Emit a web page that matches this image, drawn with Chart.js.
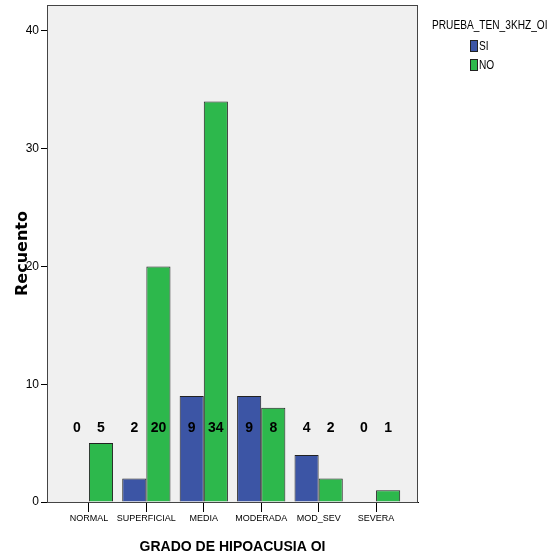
<!DOCTYPE html>
<html>
<head>
<meta charset="utf-8">
<script src="https://cdn.jsdelivr.net/npm/chart.js@4.4.1/dist/chart.umd.min.js"></script>
<style>
  body { margin: 0; background: #fff; }
  #wrap { width: 554px; height: 556px; }
</style>
</head>
<body>
<div id="wrap"><canvas id="grupoChart"></canvas></div>
<script>
  "use strict";

  var categories = ["NORMAL", "SUPERFICIAL", "MEDIA", "MODERADA", "MOD_SEV", "SEVERA"];
  var siValues = [0, 2, 9, 9, 4, 0];
  var noValues = [5, 20, 34, 8, 2, 1];
  var yTicks = [0, 10, 20, 30, 40];

  var labelLevel = 6.3;   // counts are printed on one row at this height

  var toPoints = function (arr) {
    return arr.map(function (v, i) { return { x: i, y: v }; });
  };

  // gray plot background + frame
  var frame = {
    id: "frame",
    beforeDatasetsDraw: function (chart) {
      var a = chart.chartArea, c = chart.ctx;
      c.save();
      c.fillStyle = "#f0f0f0";
      c.fillRect(a.left, a.top, a.right - a.left, a.bottom - a.top);
      c.strokeStyle = "#444";
      c.lineWidth = 1;
      c.strokeRect(a.left + 0.5, a.top + 0.5, a.right - a.left - 1, a.bottom - a.top);
      c.restore();
    }
  };

  // the counts above the bars
  var counts = {
    id: "counts",
    afterDatasetsDraw: function (chart) {
      var c = chart.ctx;
      var y = chart.scales.y.getPixelForValue(labelLevel);
      c.save();
      c.font = "bold 14px 'Liberation Sans', Arial, sans-serif";
      c.fillStyle = "#000";
      c.textAlign = "center";
      c.textBaseline = "middle";
      chart.data.datasets.forEach(function (ds, d) {
        chart.getDatasetMeta(d).data.forEach(function (bar, i) {
          c.fillText(String(ds.data[i].y), bar.x, y);
        });
      });
      c.restore();
    }
  };

  // SPSS-like legend at the top right (narrow text)
  var legendBox = {
    id: "legendBox",
    afterDraw: function (chart) {
      var c = chart.ctx;
      c.save();
      c.fillStyle = "#000";
      c.textBaseline = "middle";
      c.font = "13px 'Liberation Sans', Arial, sans-serif";
      c.save();
      c.translate(432, 25);
      c.scale(0.78, 1);
      c.fillText("PRUEBA_TEN_3KHZ_OI", 0, 0);
      c.restore();
      chart.data.datasets.forEach(function (ds, d) {
        var top = 40 + d * 19;
        c.fillStyle = ds.backgroundColor;
        c.fillRect(470, top, 8, 12);
        c.strokeStyle = "#222";
        c.strokeRect(470.5, top + 0.5, 7, 11);
        c.fillStyle = "#000";
        c.save();
        c.translate(479, top + 6);
        c.scale(0.78, 1);
        c.fillText(ds.label, 0, 0);
        c.restore();
      });
      c.restore();
    }
  };

  var ctx = document.getElementById("grupoChart");
  var myChart = new Chart(ctx, {
    type: "bar",
    data: {
      datasets: [
        {
          label: "SI",
          data: toPoints(siValues),
          backgroundColor: "#3c55a5",
          borderColor: "#222",
          borderWidth: 1
        },
        {
          label: "NO",
          data: toPoints(noValues),
          backgroundColor: "#2db84c",
          borderColor: "#222",
          borderWidth: 1
        }
      ]
    },
    options: {
      responsive: true,
      maintainAspectRatio: false,
      animation: false,
      categoryPercentage: 0.84,
      barPercentage: 1,
      layout: { padding: { top: 4, right: 136, left: 0, bottom: 0 } },
      plugins: {
        legend: { display: false },
        tooltip: { enabled: false }
      },
      scales: {
        x: {
          type: "linear",
          offset: false,
          min: -0.73,
          max: categories.length - 1 + 0.73,
          afterBuildTicks: function (scale) {
            scale.ticks = categories.map(function (c, i) { return { value: i }; });
          },
          afterFit: function (scale) { scale.height = 54; },
          grid: { drawOnChartArea: false, offset: false, tickLength: 10, color: "#000" },
          border: { display: true, color: "#000" },
          ticks: {
            padding: 1,
            color: "#000",
            maxRotation: 0,
            autoSkip: false,
            font: { family: "'Liberation Sans', Arial, sans-serif", size: 9 },
            callback: function (v) { return categories[v]; }
          },
          title: {
            display: true,
            text: "GRADO DE HIPOACUSIA OI",
            color: "#000",
            padding: { top: 0, bottom: 0 },
            font: { family: "'Liberation Sans', Arial, sans-serif", size: 14, weight: "bold" }
          }
        },
        y: {
          min: 0,
          max: 42.2,
          afterBuildTicks: function (scale) {
            scale.ticks = yTicks.map(function (v) { return { value: v }; });
          },
          afterFit: function (scale) { scale.width = 47; },
          grid: { drawOnChartArea: false, tickLength: 6, color: "#000" },
          border: { display: true, color: "#444" },
          ticks: {
            padding: 2,
            color: "#000",
            font: { family: "'Liberation Sans', Arial, sans-serif", size: 12, lineHeight: 0.5 }
          },
          title: {
            display: true,
            text: "Recuento",
            color: "#000",
            padding: { top: 13, bottom: 0 },
            font: { family: "'DejaVu Sans', sans-serif", size: 16, weight: "bold" }
          }
        }
      }
    },
    plugins: [frame, counts, legendBox]
  });
</script>
</body>
</html>
